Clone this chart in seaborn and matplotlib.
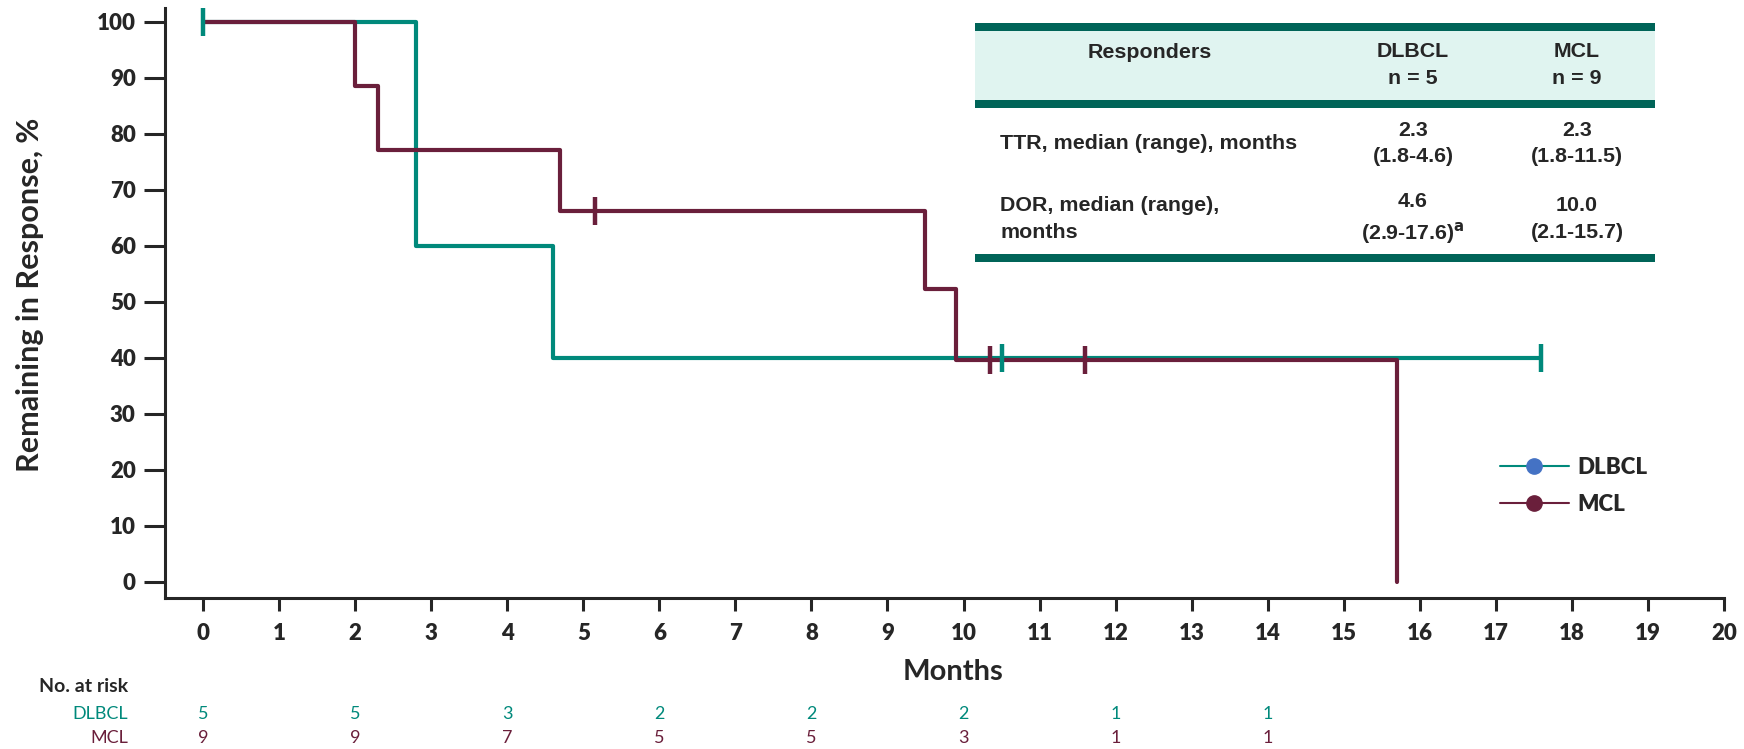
import pandas as pd
import matplotlib.pyplot as plt
import seaborn as sns
from matplotlib.lines import Line2D
from matplotlib.patches import Rectangle
from matplotlib.transforms import blended_transform_factory

# Kaplan-Meier steps
dlbcl_t = [0, 2.8, 4.6, 17.6]
dlbcl_s = [100, 60, 40, 40]
dlbcl_cens_t = [0, 10.5, 17.6]
dlbcl_cens_s = [100, 40, 40]

mcl_t = [0, 2.0, 2.3, 4.7, 9.5, 9.9, 15.7]
mcl_s = [100, 88.6, 77.1, 66.2, 52.4, 39.6, 0]
mcl_cens_t = [5.15, 10.35, 11.6]
mcl_cens_s = [66.2, 39.6, 39.6]

risk_times = [0, 2, 4, 6, 8, 10, 12, 14]
risk_dlbcl = [5, 5, 3, 2, 2, 2, 1, 1]
risk_mcl = [9, 9, 7, 5, 5, 3, 1, 1]

tbl_header = ["Responders", "DLBCL\nn = 5", "MCL\nn = 9"]
tbl_rows = [
    ["TTR, median (range), months", "2.3\n(1.8-4.6)", "2.3\n(1.8-11.5)"],
    ["DOR, median (range),\nmonths", "4.6\n(2.9-17.6)$^{\\mathbf{a}}$", "10.0\n(2.1-15.7)"],
]

teal = "#00897B"
maroon = "#6A1F3B"
dark = "#262626"
bar = "#006458"
shade = "#E0F4F0"

sns.set_style("ticks")
plt.rcParams["font.family"] = ["Lato", "DejaVu Sans"]

W, H = 1744, 749
fig = plt.figure(figsize=(W / 100, H / 100), dpi=100)
ax = fig.add_axes([165 / W, 1 - 598 / H, (1724 - 165) / W, (598 - 8) / H])


def fx(px):
    return px / W


def fy(py):
    return 1 - py / H


df = pd.concat([
    pd.DataFrame({"t": dlbcl_t, "s": dlbcl_s, "grp": "DLBCL"}),
    pd.DataFrame({"t": mcl_t, "s": mcl_s, "grp": "MCL"}),
])
sns.lineplot(data=df, x="t", y="s", hue="grp", palette={"DLBCL": teal, "MCL": maroon},
             drawstyle="steps-post", estimator=None, sort=False, lw=3, ax=ax, legend=False)

ax.plot(dlbcl_cens_t, dlbcl_cens_s, ls="none", marker="|", ms=20, mew=3.2, color=teal)
ax.plot(mcl_cens_t, mcl_cens_s, ls="none", marker="|", ms=20, mew=3.2, color=maroon)

ax.set_xlim(-0.5, 20)
ax.set_ylim(-2.86, 102.5)
ax.set_xticks(range(0, 21))
ax.set_yticks(range(0, 101, 10))
ax.set_xlabel("")
ax.set_ylabel("")
for side in ["top", "right"]:
    ax.spines[side].set_visible(False)
for side in ["left", "bottom"]:
    ax.spines[side].set_linewidth(2.2)
    ax.spines[side].set_color(dark)
ax.tick_params(axis="y", length=15, width=2.2, color=dark, pad=6, labelsize=16)
ax.tick_params(axis="x", length=9, width=2.2, color=dark, pad=9, labelsize=16)
for lab in ax.get_xticklabels() + ax.get_yticklabels():
    lab.set_fontweight("heavy")

fig.text(fx(30), fy(295), "Remaining in Response, %", rotation=90, ha="center", va="center",
         fontsize=22, fontweight="bold")
fig.text(fx(953), fy(672), "Months", ha="center", va="center", fontsize=21, fontweight="bold")

# legend
handles = [
    Line2D([], [], color=teal, lw=1.5, marker="o", ms=11, mfc="#4472C4", mec="#4472C4"),
    Line2D([], [], color=maroon, lw=1.5, marker="o", ms=11, mfc=maroon, mec=maroon),
]
fig.legend(handles, ["DLBCL", "MCL"], loc="center left", bbox_to_anchor=(fx(1500), fy(486)),
           frameon=False, borderpad=0, borderaxespad=0, handlelength=3.1, handletextpad=0.4,
           labelspacing=0.7, prop={"weight": "heavy", "size": 16})

# number at risk
fig.text(fx(39), fy(687), "No. at risk", ha="left", va="center", fontsize=14, fontweight="bold")
fig.text(fx(128), fy(714), "DLBCL", ha="right", va="center", fontsize=13, color=teal)
fig.text(fx(128), fy(738), "MCL", ha="right", va="center", fontsize=13, color=maroon)
blend = blended_transform_factory(ax.transData, fig.transFigure)
for t, a, b in zip(risk_times, risk_dlbcl, risk_mcl):
    fig.text(t, fy(714), str(a), transform=blend, ha="center", va="center", fontsize=13, color=teal)
    fig.text(t, fy(738), str(b), transform=blend, ha="center", va="center", fontsize=13, color=maroon)

# summary table
x0, x1 = 975, 1655
fig.add_artist(Rectangle((fx(x0), fy(100)), fx(x1 - x0), (100 - 30.7) / H,
                         transform=fig.transFigure, color=shade, lw=0))
for yc in [26.7, 104, 258]:
    fig.add_artist(Rectangle((fx(x0), fy(yc + 4)), fx(x1 - x0), 8 / H,
                             transform=fig.transFigure, color=bar, lw=0))

tkw = dict(fontsize=15.4, fontweight="bold", family=["Liberation Sans", "DejaVu Sans"],
           linespacing=1.5)
col_x = [1150, 1413, 1577]
fig.text(fx(col_x[0]), fy(52), tbl_header[0], ha="center", va="center", **tkw)
for cx, txt in zip(col_x[1:], tbl_header[1:]):
    fig.text(fx(cx), fy(65), txt, ha="center", va="center", **tkw)
for row, yc in zip(tbl_rows, [143.5, 219]):
    fig.text(fx(1000), fy(yc), row[0], ha="left", va="center", **tkw)
    for cx, txt in zip(col_x[1:], row[1:]):
        fig.text(fx(cx), fy(yc), txt, ha="center", va="center", **tkw)

fig.savefig("out.png", dpi=100)
